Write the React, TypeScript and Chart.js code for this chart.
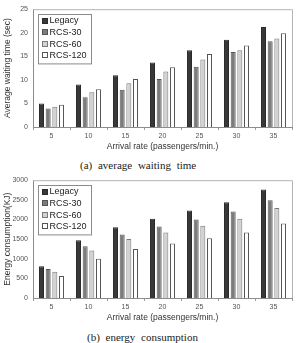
import React, { useEffect, useRef } from "react";
import { Chart, registerables } from "chart.js";

Chart.register(...registerables);

const categories = ["5", "10", "15", "20", "25", "30", "35"];
const seriesNames = ["Legacy", "RCS-30", "RCS-60", "RCS-120"];

const waitLegacy = [5.0, 9.0, 11.0, 13.7, 16.3, 18.5, 21.2];
const waitRcs30 = [3.9, 6.3, 7.9, 10.2, 12.8, 15.9, 18.2];
const waitRcs60 = [4.3, 7.4, 9.3, 11.8, 14.3, 16.3, 18.8];
const waitRcs120 = [4.7, 8.0, 10.2, 12.7, 15.5, 17.3, 19.9];

const energyLegacy = [810, 1470, 1800, 2020, 2230, 2440, 2760];
const energyRcs30 = [740, 1320, 1620, 1820, 2000, 2200, 2490];
const energyRcs60 = [670, 1210, 1500, 1670, 1840, 2020, 2290];
const energyRcs120 = [560, 1000, 1250, 1390, 1520, 1670, 1900];

const fills = ["#383838", "#7c7c7c", "#d2d2d2", "#ffffff"];
const borders = ["#2a2a2a", "#555555", "#7a7a7a", "#555555"];
const FONT = "Arial, 'Liberation Sans', sans-serif";

const framePlugin = {
  id: "frame",
  afterDraw(chart: any) {
    const { ctx, chartArea } = chart;
    const { left, right, top, bottom } = chartArea;
    ctx.save();
    ctx.strokeStyle = "#b4b4b4";
    ctx.lineWidth = 1;
    ctx.beginPath();
    ctx.moveTo(left, top + 0.5);
    ctx.lineTo(right + 0.5, top + 0.5);
    ctx.lineTo(right + 0.5, bottom);
    ctx.stroke();

    // legend box
    const bx = Math.round(left + 5) + 0.5;
    const by = Math.round(top + 5) + 0.5;
    const rowH = 11.6;
    ctx.font = `9px ${FONT}`;
    let maxW = 0;
    seriesNames.forEach((n) => {
      maxW = Math.max(maxW, ctx.measureText(n).width);
    });
    const bw = 12 + maxW + 4;
    const bh = rowH * 4 + 3;
    ctx.fillStyle = "#ffffff";
    ctx.fillRect(bx, by, bw, bh);
    ctx.strokeStyle = "#8a8a8a";
    ctx.strokeRect(bx, by, bw, bh);
    ctx.textBaseline = "middle";
    ctx.textAlign = "left";
    seriesNames.forEach((n, i) => {
      const cy = by + 6 + i * rowH;
      ctx.fillStyle = fills[i];
      ctx.fillRect(bx + 4, Math.round(cy - 3) + 0.5, 5, 5);
      ctx.strokeStyle = borders[i];
      ctx.strokeRect(bx + 4, Math.round(cy - 3) + 0.5, 5, 5);
      ctx.fillStyle = "#222222";
      ctx.fillText(n, bx + 11, cy + 0.5);
    });
    ctx.restore();
  },
};

type PanelProps = {
  top: number;
  height: number;
  plotTop: number;
  yTitle: string;
  yMax: number;
  yStep: number;
  series: number[][];
};

function Panel({ top, height, plotTop, yTitle, yMax, yStep, series }: PanelProps) {
  const ref = useRef<HTMLCanvasElement | null>(null);
  useEffect(() => {
    if (!ref.current) return;
    const xHeight = 28;
    const chart = new Chart(ref.current, {
      type: "bar",
      data: {
        labels: categories,
        datasets: series.map((d, i) => ({
          label: seriesNames[i],
          data: d,
          backgroundColor: fills[i],
          borderColor: borders[i],
          borderWidth: 1,
          categoryPercentage: 0.72,
          barPercentage: 0.75,
        })),
      },
      options: {
        responsive: false,
        animation: false,
        devicePixelRatio: 1,
        layout: { padding: { top: plotTop, right: 4, left: 0, bottom: 0 } },
        plugins: { legend: { display: false }, tooltip: { enabled: false } },
        scales: {
          x: {
            afterFit: (s: any) => {
              s.height = xHeight;
            },
            grid: {
              display: true,
              drawOnChartArea: false,
              drawTicks: true,
              tickLength: 3,
              color: "#9a9a9a",
              offset: true,
            },
            border: { display: true, color: "#8c8c8c", width: 1 },
            ticks: {
              color: "#555555",
              font: { family: FONT, size: 7 },
              padding: 2,
              maxRotation: 0,
            },
            title: {
              display: true,
              text: "Arrival rate (passengers/min.)",
              color: "#333333",
              font: { family: FONT, size: 8.5 },
              padding: { top: 0, bottom: 3 },
            },
          },
          y: {
            min: 0,
            max: yMax,
            afterFit: (s: any) => {
              s.width = 33;
            },
            grid: { display: false, drawTicks: false, tickLength: 0 },
            border: { display: true, color: "#8c8c8c", width: 1 },
            ticks: {
              stepSize: yStep,
              color: "#555555",
              font: { family: FONT, size: 7 },
              padding: 5,
              callback: (v: any) => String(v),
            },
            title: {
              display: true,
              text: yTitle,
              color: "#333333",
              font: { family: FONT, size: 8.5 },
              padding: { top: 3, bottom: 0 },
            },
          },
        },
      },
      plugins: [framePlugin],
    });
    return () => chart.destroy();
  }, []);
  return (
    <canvas
      ref={ref}
      width={296}
      height={height}
      style={{ position: "absolute", left: 0, top, width: 296, height }}
    />
  );
}

export default function App() {
  const caption: React.CSSProperties = {
    position: "absolute",
    fontFamily: "'Liberation Serif', 'Times New Roman', serif",
    fontSize: 11,
    wordSpacing: 3,
    color: "#222",
    whiteSpace: "nowrap",
    lineHeight: "12px",
  };
  return (
    <div style={{ position: "absolute", left: 0, top: 0, width: 296, height: 343, background: "#fff", overflow: "hidden" }}>
      <Panel
        top={0}
        height={155}
        plotTop={7}
        yTitle="Average waiting time (sec)"
        yMax={25}
        yStep={5}
        series={[waitLegacy, waitRcs30, waitRcs60, waitRcs120]}
      />
      <div style={{ ...caption, left: 80, top: 159 }}>(a) average waiting time</div>
      <Panel
        top={171}
        height={155}
        plotTop={8}
        yTitle="Energy consumption(KJ)"
        yMax={3000}
        yStep={500}
        series={[energyLegacy, energyRcs30, energyRcs60, energyRcs120]}
      />
      <div style={{ ...caption, left: 87, top: 331 }}>(b) energy consumption</div>
    </div>
  );
}
